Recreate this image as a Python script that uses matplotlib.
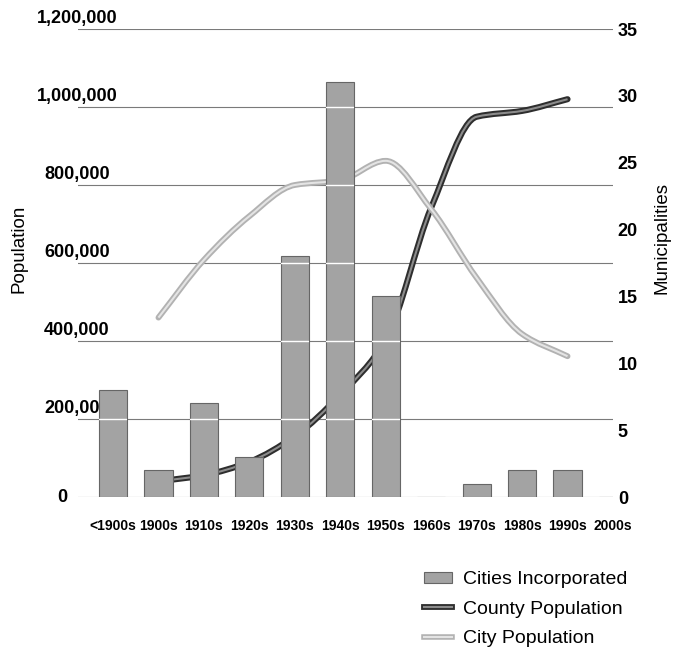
import numpy as np
import matplotlib
matplotlib.use("Agg")
import matplotlib.pyplot as plt
import matplotlib.patheffects as pe
import matplotlib.transforms as mtrans
from matplotlib.path import Path
from matplotlib.patches import PathPatch, Patch
from matplotlib.lines import Line2D

# data
decades = ["<1900s", "1900s", "1910s", "1920s", "1930s", "1940s",
           "1950s", "1960s", "1970s", "1980s", "1990s", "2000s"]
cities_incorporated = [8, 2, 7, 3, 18, 31, 15, 0, 1, 2, 2, 0]
county_pop = [np.nan, 40000, 56000, 90000, 156000, 262000, 403000,
              742000, 975000, 990000, 1020000, np.nan]
city_pop = [np.nan, 460000, 608000, 720000, 800000, 812000, 862000,
            738000, 562000, 418000, 361000, np.nan]

pop_ticks = [0, 200000, 400000, 600000, 800000, 1000000, 1200000]
pop_labels = ["0", "200,000", "400,000", "600,000", "800,000", "1,000,000", "1,200,000"]
muni_ticks = [0, 5, 10, 15, 20, 25, 30, 35]

plt.rcParams["font.family"] = ["Liberation Sans", "DejaVu Sans"]

W, H = 679, 649
fig = plt.figure(figsize=(W / 100, H / 100), dpi=100)
ax = fig.add_axes([78 / W, 1 - 497 / H, 535 / W, 468 / H])
ax2 = ax.twinx()


def smooth_path(y):
    # smooth curve through the points, monotone tangents so it doesn't overshoot
    P = np.array([(i, v) for i, v in enumerate(y) if not np.isnan(v)], float)
    d = np.diff(P[:, 1])
    m = np.empty(len(P))
    m[0], m[-1] = d[0], d[-1]
    for k in range(1, len(P) - 1):
        if d[k - 1] * d[k] <= 0:
            m[k] = 0
        else:
            m[k] = 2 / (1 / d[k - 1] + 1 / d[k])
    verts = [P[0]]
    codes = [Path.MOVETO]
    for k in range(len(P) - 1):
        p1, p2 = P[k], P[k + 1]
        verts += [p1 + np.array([1 / 3, m[k] / 3]), p2 - np.array([1 / 3, m[k + 1] / 3]), p2]
        codes += [Path.CURVE4] * 3
    return Path(verts, codes)


# gridlines
for g in pop_ticks:
    ax.axhline(g, color="#7a7a7a", lw=0.8, zorder=0)

# population lines (sit behind the bars)
county_fx = [pe.Stroke(linewidth=4.4, foreground="#2e2e2e", capstyle="round"), pe.Normal()]
city_fx = [pe.Stroke(linewidth=4.2, foreground="#b2b2b2", capstyle="round"), pe.Normal()]
ax.add_patch(PathPatch(smooth_path(county_pop), fill=False, edgecolor="#8c8c8c",
                       lw=1.5, path_effects=county_fx, zorder=2))
ax.add_patch(PathPatch(smooth_path(city_pop), fill=False, edgecolor="#e4e4e4",
                       lw=1.5, path_effects=city_fx, zorder=2))

# bars for municipalities
x = np.arange(len(decades))
bars = ax2.bar(x, cities_incorporated, width=0.62, color="#a3a3a3",
               edgecolor="#666666", lw=0.8, zorder=2)

# gridlines show white across the bars
for b in bars:
    for g in pop_ticks[1:]:
        ln = Line2D([-1, 12], [g, g], transform=ax.transData, color="white", lw=1.0, zorder=3)
        ax2.add_line(ln)
        ln.set_clip_path(b)

ax.set_xlim(-0.77, 11.0)
ax.set_ylim(0, 1200000)
ax2.set_ylim(0, 35)

for a in (ax, ax2):
    for s in a.spines.values():
        s.set_visible(False)

ax.set_xticks(x)
ax.set_xticklabels(decades, fontsize=10, fontweight="bold")
ax.tick_params(axis="x", length=0, pad=16)

# left tick labels sit above their gridlines
ax.set_yticks(pop_ticks)
ax.set_yticklabels([])
ax.tick_params(axis="y", length=0)
tr = mtrans.blended_transform_factory(fig.transFigure, ax.transData)
up = mtrans.ScaledTranslation(0, 0.11, fig.dpi_scale_trans)
for v, s in zip(pop_ticks, pop_labels):
    if v == 0:
        ax.text(62 / W, v, s, transform=tr, ha="center", va="center",
                fontsize=13, fontweight="bold")
    else:
        ax.text(77 / W, v, s, transform=tr + up, ha="center", va="center",
                fontsize=13, fontweight="bold")

ax2.set_yticks(muni_ticks)
ax2.set_yticklabels([str(t) for t in muni_ticks], fontsize=13, fontweight="bold")
ax2.tick_params(axis="y", length=0, pad=3.5)

ax.set_ylabel("Population", fontsize=13.5)
ax.yaxis.set_label_coords(-0.095, 0.53)
ax2.set_ylabel("Municipalities", fontsize=13.5)
ax2.yaxis.set_label_coords(1.075, 0.553)

handles = [
    Patch(facecolor="#a3a3a3", edgecolor="#666666", lw=0.8),
    Line2D([], [], color="#8c8c8c", lw=1.5,
           path_effects=[pe.Stroke(linewidth=4.2, foreground="#2e2e2e"), pe.Normal()]),
    Line2D([], [], color="#e4e4e4", lw=1.5,
           path_effects=[pe.Stroke(linewidth=4.0, foreground="#b2b2b2"), pe.Normal()]),
]
fig.legend(handles, ["Cities Incorporated", "County Population", "City Population"],
           loc="upper left", bbox_to_anchor=(424 / W, 1 - 571 / H), frameon=False,
           fontsize=14, handlelength=1.45, handleheight=0.5, handletextpad=0.55,
           labelspacing=0.65, borderpad=0, borderaxespad=0)

fig.savefig("out.png", dpi=100)
